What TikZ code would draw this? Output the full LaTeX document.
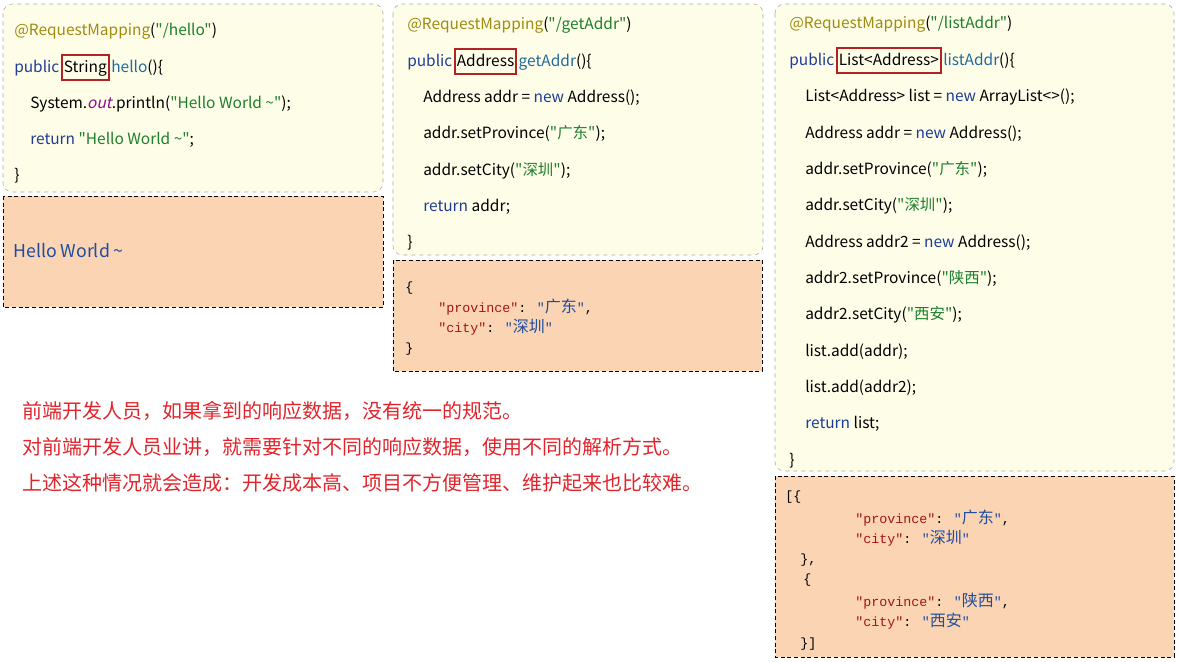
\documentclass[tikz,border=0pt]{standalone}
\usepackage{fontspec}
\setmainfont{Noto Sans CJK SC}[Ligatures=TeXOff]
\newfontfamily\cjk{Noto Sans CJK SC}[Ligatures=TeXOff]
\newfontfamily\slantcode{Noto Sans CJK SC}[FakeSlant=0.22, Ligatures=TeXOff]
\newfontfamily\jsonfont{Liberation Mono}
\usetikzlibrary{positioning}

\definecolor{codebg}{HTML}{FEFEE8}
\definecolor{resbg}{HTML}{FBD4B3}
\definecolor{annogold}{HTML}{A08A12}
\definecolor{kwblue}{HTML}{1F3C96}
\definecolor{methblue}{HTML}{24699C}
\definecolor{strgreen}{HTML}{1E7F2C}
\definecolor{outpurple}{HTML}{871094}
\definecolor{jkeyred}{HTML}{A31515}
\definecolor{jvalblue}{HTML}{1F4E9E}
\definecolor{notered}{HTML}{E0242B}
\definecolor{hlred}{HTML}{B22222}

\newcommand\anno[1]{\textcolor{annogold}{#1}}
\newcommand\kw[1]{\textcolor{kwblue}{#1}}
\newcommand\meth[1]{\textcolor{methblue}{#1}}
\newcommand\strg[1]{\textcolor{strgreen}{#1}}
\newcommand\jkey[1]{\textcolor{jkeyred}{″#1″}}
\newcommand\jval[1]{\textcolor{jvalblue}{″{\cjk\fontsize{12pt}{12pt}\selectfont #1}″}}

\begin{document}
\begin{tikzpicture}[
    x=0.75pt, y=-0.75pt,
    codebox/.style={draw=gray!70, dashed, rounded corners=7pt, fill=codebg},
    resbox/.style={draw=black, densely dashed, fill=resbg},
    code/.style={anchor=base west, inner sep=0pt, font=\fontsize{11.6pt}{13pt}\selectfont},
    hl/.style={code, draw=hlred, line width=1.3pt, inner xsep=1.5pt, text height=12.5pt, text depth=6pt},
    json/.style={anchor=base west, inner sep=0pt, font=\jsonfont\fontsize{10pt}{11pt}\selectfont},
    note/.style={anchor=base west, inner sep=0pt, text=notered, font=\fontsize{15pt}{17pt}\selectfont}
  ]
    \useasboundingbox (0,0) rectangle (1178,661);
    % Panels
    \draw[codebox] (3,4) rectangle (383,192);
    \draw[resbox]  (3,196) rectangle (383,307);
    \draw[codebox] (393,4) rectangle (763,255);
    \draw[resbox]  (393,260) rectangle (762,371);
    \draw[codebox] (775,4) rectangle (1174,471);
    \draw[resbox]  (775,476) rectangle (1174,657);

    % hello
    \node[code] (h1) at (14,35) {\anno{@RequestMapping}(\strg{"/hello"})};
    \node[code] (h2) at (14,72) {\kw{public}};
    \node[hl] (h2t) at ([xshift=1pt]h2.base east) {String};
    \node[code] (h2m) at ([xshift=1pt]h2t.base east) {\meth{hello}()\{};
    \node[code] (h3) at (30,108) {System.{\slantcode\textcolor{outpurple}{out}}.println(\strg{"Hello World \textasciitilde"});};
    \node[code] (h4) at (30,144) {\kw{return} \strg{"Hello World \textasciitilde"};};
    \node[code] (h5) at (14,180) {\}};
    \node[code, font=\fontsize{13.3pt}{16pt}\selectfont, text=jvalblue] (hres) at (13,257) {Hello World \textasciitilde};

    % getAddr
    \node[code] (g1) at (407,29) {\anno{@RequestMapping}(\strg{"/getAddr"})};
    \node[code] (g2) at (407,66) {\kw{public}};
    \node[hl] (g2t) at ([xshift=1pt]g2.base east) {Address};
    \node[code] (g2m) at ([xshift=1pt]g2t.base east) {\meth{getAddr}()\{};
    \node[code] (g3) at (423,102) {Address addr = \kw{new} Address();};
    \node[code] (g4) at (423,138) {addr.setProvince(\strg{"广东"});};
    \node[code] (g5) at (423,175) {addr.setCity(\strg{"深圳"});};
    \node[code] (g6) at (423,211) {\kw{return} addr;};
    \node[code] (g7) at (407,247) {\}};
    \node[json] (gj1) at (405,291) {\{};
    \node[json] (gj2) at (438,312) {\jkey{province}: \jval{广东},};
    \node[json] (gj3) at (438,332) {\jkey{city}: \jval{深圳}};
    \node[json] (gj4) at (405,352) {\}};

    % listAddr
    \node[code] (l1) at (789,28) {\anno{@RequestMapping}(\strg{"/listAddr"})};
    \node[code] (l2) at (789,65) {\kw{public}};
    \node[hl] (l2t) at ([xshift=1pt]l2.base east) {List<Address>};
    \node[code] (l2m) at ([xshift=1pt]l2t.base east) {\meth{listAddr}()\{};
    \node[code] (l3)  at (805,101) {List<Address> list = \kw{new} ArrayList<>();};
    \node[code] (l4)  at (805,138) {Address addr = \kw{new} Address();};
    \node[code] (l5)  at (805,174) {addr.setProvince(\strg{"广东"});};
    \node[code] (l6)  at (805,210) {addr.setCity(\strg{"深圳"});};
    \node[code] (l7)  at (805,247) {Address addr2 = \kw{new} Address();};
    \node[code] (l8)  at (805,283) {addr2.setProvince(\strg{"陕西"});};
    \node[code] (l9)  at (805,319) {addr2.setCity(\strg{"西安"});};
    \node[code] (l10) at (805,356) {list.add(addr);};
    \node[code] (l11) at (805,392) {list.add(addr2);};
    \node[code] (l12) at (805,428) {\kw{return} list;};
    \node[code] (l13) at (789,465) {\}};
    \node[json] (lj1) at (785,500) {[\{};
    \node[json] (lj2) at (855,523) {\jkey{province}: \jval{广东},};
    \node[json] (lj3) at (855,543) {\jkey{city}: \jval{深圳}};
    \node[json] (lj4) at (800,563) {\},};
    \node[json] (lj5) at (803,583) {\{};
    \node[json] (lj6) at (855,606) {\jkey{province}: \jval{陕西},};
    \node[json] (lj7) at (855,626) {\jkey{city}: \jval{西安}};
    \node[json] (lj8) at (800,647) {\}]};

    % Notes
    \node[note] (n1) at (22,418) {前端开发人员，如果拿到的响应数据，没有统一的规范。};
    \node[note] (n2) at (22,454) {对前端开发人员业讲，就需要针对不同的响应数据，使用不同的解析方式。};
    \node[note] (n3) at (22,490) {上述这种情况就会造成：开发成本高、项目不方便管理、维护起来也比较难。};
  \end{tikzpicture}
\end{document}
